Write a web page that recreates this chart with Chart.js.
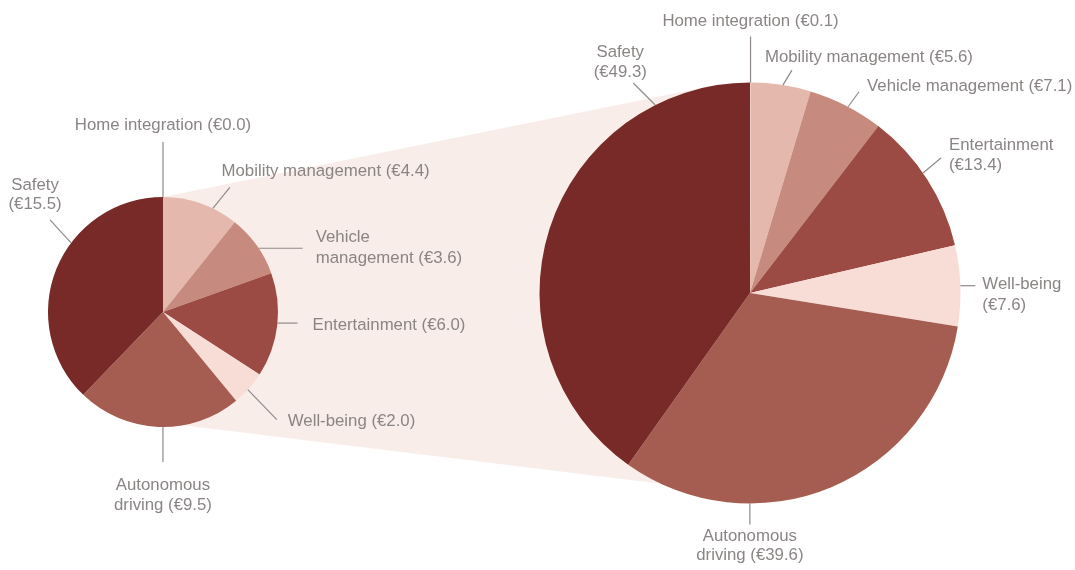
<!DOCTYPE html>
<html>
<head>
<meta charset="utf-8">
<script src="https://cdn.jsdelivr.net/npm/chart.js@4.4.1/dist/chart.umd.min.js"></script>
<style>
  html, body { margin: 0; padding: 0; background: #ffffff; }
  #wrap { position: relative; width: 1075px; height: 570px; background: #ffffff; overflow: hidden; }
  #wrap canvas { position: absolute; left: 0; top: 0; }
</style>
</head>
<body>
<div id="wrap">
  <canvas id="small" width="1075" height="570"></canvas>
  <canvas id="big" width="1075" height="570"></canvas>
</div>
<script>
// ---- data ----
const categories = ['Home integration', 'Mobility management', 'Vehicle management', 'Entertainment', 'Well-being', 'Autonomous driving', 'Safety'];
const smallValues = [0.0, 4.4, 3.6, 6.0, 2.0, 9.5, 15.5];
const bigValues   = [0.1, 5.6, 7.1, 13.4, 7.6, 39.6, 49.3];
const sliceColors = ['#efcdc4', '#e4b8ac', '#c78a7e', '#9b4b43', '#f7ddd6', '#a55d51', '#772a27'];

// ---- label layout (position of leader line within slice, line vector, text offset) ----
const smallLayout = [
  { frac: 0.5,   end: [0, -55],  txt: [0, -16.5],   align: 'center', br: false, lh: 20 },
  { frac: 0.665, end: [17, -21], txt: [-8.3, -16],  align: 'left',   br: false, lh: 20 },
  { frac: 0.56,  end: [44, 0],   txt: [13, -10.5],  align: 'left',   br: true,  lh: 21 },
  { frac: 0.48,  end: [20, 0],   txt: [15, 2],      align: 'left',   br: false, lh: 20 },
  { frac: 0.545, end: [29, 30],  txt: [11, 1.7],    align: 'left',   br: false, lh: 20 },
  { frac: 0.474, end: [0, 35],   txt: [0, 23],      align: 'center', br: true,  lh: 20 },
  { frac: 0.61,  end: [-21, -23],txt: [-15, -35],   align: 'center', br: true,  lh: 19.5 }
];
const bigLayout = [
  { frac: 0.5,   end: [0, -46],  txt: [0, -15],     align: 'center', br: false, lh: 20 },
  { frac: 0.53,  end: [9, -15],  txt: [-27, -13],   align: 'left',   br: false, lh: 20 },
  { frac: 0.53,  end: [11, -15], txt: [8, -5],      align: 'left',   br: false, lh: 20 },
  { frac: 0.45,  end: [18, -15], txt: [8, -13],     align: 'left',   br: true,  lh: 20 },
  { frac: 0.5,   end: [15, 0],   txt: [7, -1],      align: 'left',   br: true,  lh: 21 },
  { frac: 0.696, end: [0, 21],   txt: [0, 12],      align: 'center', br: true,  lh: 19 },
  { frac: 0.815, end: [-22, -22],txt: [-13, -31],   align: 'center', br: true,  lh: 20 }
];
// fan (zoom band) attach angles in degrees, clockwise from top
const fanSmall = [0, 170];
const fanBig = [-11, 205];

const TEXT_FONT = '16.8px "Liberation Sans", Arial, Helvetica, sans-serif';
const TEXT_COLOR = '#8a8584';
const LINE_COLOR = '#8f8a89';
const FAN_COLOR = '#f9ede9';

function labelText(i, values, br) {
  const full = categories[i] + ' (\u20AC' + values[i].toFixed(1) + ')';
  if (!br) return [full];
  const k = full.indexOf(' ');
  return [full.slice(0, k), full.slice(k + 1)];
}

function makeLeaders(layout, values) {
  return {
    id: 'leaders',
    afterDatasetsDraw(chart) {
      const ctx = chart.ctx;
      const meta = chart.getDatasetMeta(0);
      ctx.save();
      ctx.font = TEXT_FONT;
      ctx.fillStyle = TEXT_COLOR;
      ctx.strokeStyle = LINE_COLOR;
      ctx.lineWidth = 1.2;
      ctx.textBaseline = 'middle';
      layout.forEach((L, i) => {
        const arc = meta.data[i];
        const p = arc.getProps(['x', 'y', 'startAngle', 'endAngle', 'outerRadius'], true);
        const a = p.startAngle + (p.endAngle - p.startAngle) * L.frac;
        const sx = p.x + p.outerRadius * Math.cos(a);
        const sy = p.y + p.outerRadius * Math.sin(a);
        const ex = sx + L.end[0], ey = sy + L.end[1];
        ctx.beginPath();
        ctx.moveTo(sx, sy);
        ctx.lineTo(ex, ey);
        ctx.stroke();
        ctx.textAlign = L.align;
        const lines = labelText(i, values, L.br);
        lines.forEach((t, j) => {
          ctx.fillText(t, ex + L.txt[0], ey + L.txt[1] + j * L.lh);
        });
      });
      ctx.restore();
    }
  };
}

function pieConfig(values, padding, plugins) {
  return {
    type: 'pie',
    data: {
      labels: categories,
      datasets: [{
        data: values,
        backgroundColor: sliceColors,
        borderWidth: 0
      }]
    },
    options: {
      responsive: false,
      animation: false,
      events: [],
      layout: { padding: padding },
      plugins: { legend: { display: false }, tooltip: { enabled: false } }
    },
    plugins: plugins
  };
}

// big pie (top canvas)
const bigChart = new Chart(document.getElementById('big'),
  pieConfig(bigValues, { left: 539.5, right: 114.5, top: 82.5, bottom: 66.5 }, [makeLeaders(bigLayout, bigValues)]));

// fan band behind both pies, attached to both pies' geometry
const fanPlugin = {
  id: 'fan',
  beforeDatasetsDraw(chart) {
    const s = chart.getDatasetMeta(0).data[0].getProps(['x', 'y', 'outerRadius'], true);
    const b = bigChart.getDatasetMeta(0).data[0].getProps(['x', 'y', 'outerRadius'], true);
    const pt = (c, deg) => {
      const r = deg * Math.PI / 180;
      return [c.x + c.outerRadius * Math.sin(r), c.y - c.outerRadius * Math.cos(r)];
    };
    const p1 = pt(s, fanSmall[0]), p2 = pt(b, fanBig[0]), p3 = pt(b, fanBig[1]), p4 = pt(s, fanSmall[1]);
    const ctx = chart.ctx;
    ctx.save();
    ctx.fillStyle = FAN_COLOR;
    ctx.beginPath();
    ctx.moveTo(p1[0], p1[1]);
    ctx.lineTo(p2[0], p2[1]);
    ctx.lineTo(b.x, b.y);
    ctx.lineTo(p3[0], p3[1]);
    ctx.lineTo(p4[0], p4[1]);
    ctx.lineTo(s.x, s.y);
    ctx.closePath();
    ctx.fill();
    ctx.restore();
  }
};

// small pie (bottom canvas)
const smallChart = new Chart(document.getElementById('small'),
  pieConfig(smallValues, { left: 48, right: 797, top: 197, bottom: 143 }, [fanPlugin, makeLeaders(smallLayout, smallValues)]));
</script>
</body>
</html>
